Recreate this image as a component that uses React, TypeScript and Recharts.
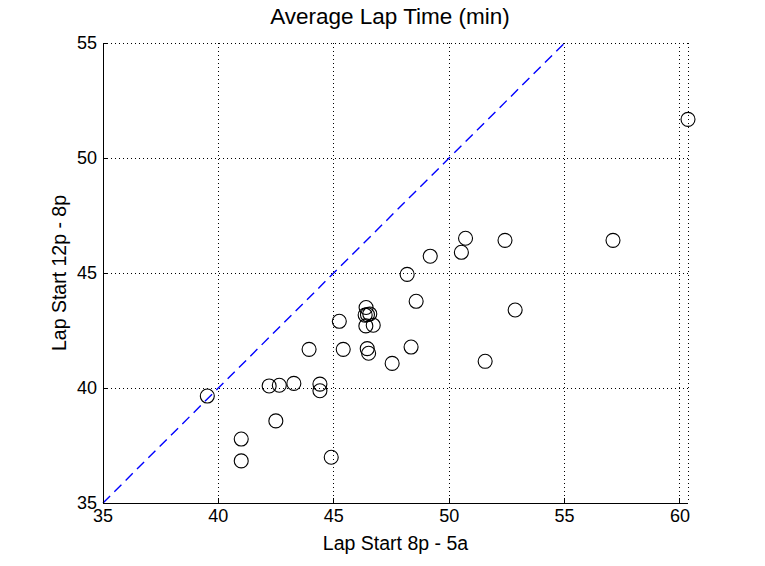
import React from 'react'
import {
  ScatterChart,
  Scatter,
  XAxis,
  YAxis,
  CartesianGrid,
  ReferenceLine,
  Label,
} from 'recharts'

// lap averages, night shift vs afternoon shift (minutes)
const nightLap = [
  39.52, 42.2, 42.64, 43.27, 44.4, 44.4, 42.49, 40.99, 40.99, 44.89,
  50.71, 52.42, 49.18, 50.53, 48.18, 48.57, 52.86, 45.24, 46.4, 46.36,
  46.56, 46.46, 46.39, 46.71, 43.93, 45.41, 46.45, 46.51, 48.35, 47.53,
  51.56, 60.35, 57.1,
]
const dayLap = [
  39.65, 40.09, 40.12, 40.2, 40.17, 39.88, 38.57, 37.78, 36.83, 36.99,
  46.51, 46.42, 45.73, 45.9, 44.94, 43.77, 43.39, 42.9, 43.5, 43.17,
  43.22, 43.19, 42.7, 42.73, 41.68, 41.68, 41.71, 41.51, 41.78, 41.07,
  41.16, 51.68, 46.42,
]
const xTicks = [35, 40, 45, 50, 55, 60]
const yTicks = [35, 40, 45, 50, 55]
const identity = [35, 55]

const points = nightLap.map((x, i) => ({ x, y: dayLap[i] }))

const font = '"Liberation Sans", Arial, Helvetica, sans-serif'

const Ring = (props: any) => (
  <circle cx={props.cx} cy={props.cy} r={7} fill="none" stroke="#000" strokeWidth={1.1} />
)

export default function App() {
  return (
    <div style={{ position: 'absolute', left: 0, top: 0, width: 765, height: 566, background: '#fff', fontFamily: font }}>
      <div
        style={{
          position: 'absolute',
          left: 0,
          top: 6,
          width: 780,
          textAlign: 'center',
          fontSize: 22.5,
          lineHeight: 1,
          color: '#000',
        }}
      >
        Average Lap Time (min)
      </div>
      <ScatterChart
        width={765}
        height={566}
        margin={{ top: 43, right: 77, left: 15, bottom: 13 }}
      >
        <CartesianGrid stroke="#000" strokeDasharray="1 3" shapeRendering="crispEdges" />
        <XAxis
          type="number"
          dataKey="x"
          domain={[35, 60.35]}
          ticks={xTicks}
          height={50}
          stroke="#000"
          tickSize={-5}
          tickMargin={11}
          shapeRendering="crispEdges"
          tick={{ fill: '#000', fontSize: 18, fontFamily: font }}
        >
          <Label
            value="Lap Start 8p - 5a"
            position="insideBottom"
            offset={3}
            fill="#000"
            fontSize={19.5}
            fontFamily={font}
          />
        </XAxis>
        <YAxis
          type="number"
          dataKey="y"
          domain={[35, 55]}
          ticks={yTicks}
          width={88}
          stroke="#000"
          tickSize={-5}
          tickMargin={11}
          shapeRendering="crispEdges"
          tick={{ fill: '#000', fontSize: 18, fontFamily: font }}
        >
          <Label
            value="Lap Start 12p - 8p"
            position="center"
            angle={-90}
            fill="#000"
            fontSize={19.5}
            fontFamily={font}
          />
        </YAxis>
        <ReferenceLine
          segment={[
            { x: identity[0], y: identity[0] },
            { x: identity[1], y: identity[1] },
          ]}
          stroke="#0000ff"
          strokeWidth={1.4}
          strokeDasharray="10 6"
        />
        <Scatter data={points} shape={Ring} isAnimationActive={false} />
      </ScatterChart>
    </div>
  )
}
